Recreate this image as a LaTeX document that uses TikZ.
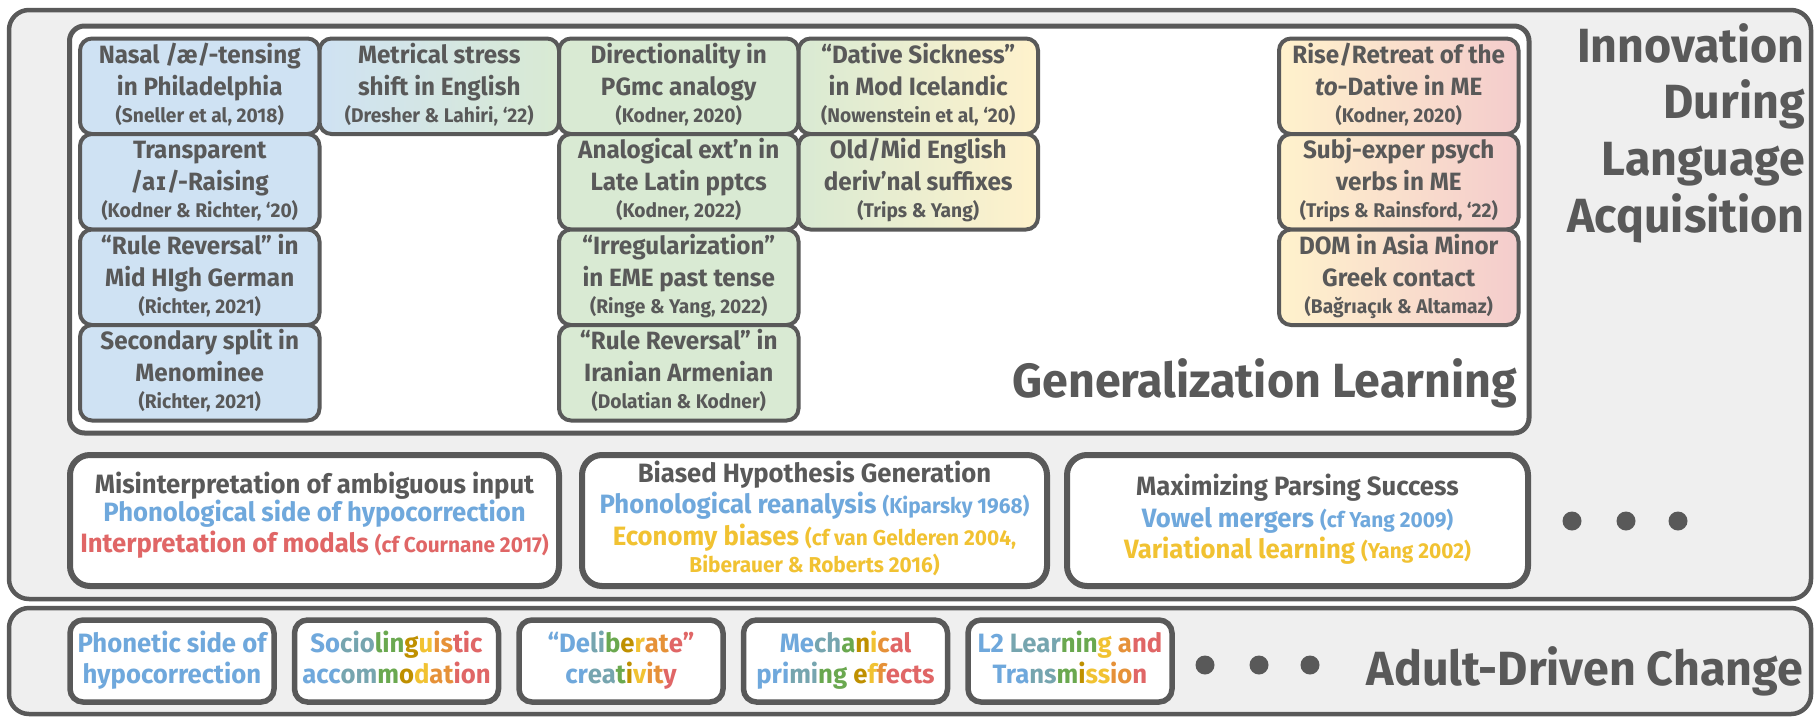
\documentclass[tikz,border=0pt]{standalone}
\usepackage{fontspec}
\setmainfont{Fira Sans}[FakeStretch=0.97]
\newfontfamily\ipafont{DejaVu Sans}[FakeStretch=0.85]
\usetikzlibrary{calc}
\definecolor{tgray}{HTML}{595959}
\definecolor{bgray}{HTML}{EFEFEF}
\definecolor{fblue}{HTML}{CFE2F3}
\definecolor{fgreen}{HTML}{D9EAD3}
\definecolor{fyellow}{HTML}{FFF2CC}
\definecolor{fred}{HTML}{F4CCCC}
\definecolor{cblue}{HTML}{6FA8DC}
\definecolor{cred}{HTML}{E06666}
\definecolor{cyellow}{HTML}{F1C232}
\definecolor{cgreen}{HTML}{6AA84F}
\definecolor{corange}{HTML}{E69138}
\definecolor{cgold}{HTML}{BF9000}
\definecolor{cteal}{HTML}{76A5AF}
\newcommand\fs[2]{\fontsize{#1}{#2}\selectfont\bfseries}
\newcommand\gbox[7]{%
  \node[smallbox,#4] (#1) at (#2,#3) {};
  \node[gt1] (#1a) at ($(#1.north)+(0,24.5)$) {#5};
  \node[gt1] (#1b) at ($(#1.north)+(0,56.5)$) {#6};
  \node[gt2] (#1c) at ($(#1.north)+(0,83.5)$) {#7};
}
\newcommand\ck[2]{\textcolor{#1}{#2}}
\tikzset{
  outerbox/.style={draw=tgray, fill=bgray, line width=4.5pt, rounded corners=20pt, inner sep=0pt, outer sep=0pt, anchor=north west},
  genbox/.style={draw=tgray, fill=white, line width=5pt, rounded corners=15pt, inner sep=0pt, outer sep=0pt, anchor=north west},
  smallbox/.style={draw=tgray, line width=4pt, rounded corners=12pt, inner sep=0pt, outer sep=0pt, minimum width=239.5pt, minimum height=95.5pt, anchor=north west},
  lowbox/.style={draw=tgray, fill=white, line width=6pt, rounded corners=20pt, inner sep=0pt, outer sep=0pt, minimum width=#1, minimum height=131pt, anchor=north west},
  botbox/.style={draw=tgray, fill=white, line width=5.5pt, rounded corners=13pt, inner sep=0pt, outer sep=0pt, minimum width=204pt, minimum height=82pt, anchor=north west},
  gt1/.style={font=\fs{25}{30}, text=tgray, inner sep=0pt, anchor=base},
  gt2/.style={font=\fs{19.8}{22}, text=tgray, inner sep=0pt, anchor=base},
  title/.style={font=\fs{48}{57}, text=tgray, inner sep=0pt, anchor=base east},
  lt/.style={font=\fs{26.5}{30}, text=tgray, inner sep=0pt, anchor=base},
  bt/.style={font=\fs{26.5}{30}, inner sep=0pt, anchor=base},
  dot/.style={circle, fill=tgray, inner sep=0pt, minimum size=19pt},
  fb/.style={fill=fblue},
  fg/.style={fill=fgreen},
  fbg/.style={left color=fblue, right color=fgreen},
  fgy/.style={left color=fgreen, right color=fyellow},
  fyr/.style={left color=fyellow, right color=fred},
}
\newcommand\sm{\fontsize{21.5}{24}\selectfont}
\begin{document}
\begin{tikzpicture}[x=1pt,y=-1pt]
\useasboundingbox (0,0) rectangle (1819,718);
% containers
\node[outerbox, minimum width=1802pt, minimum height=589pt] (top) at (9,10) {};
\node[outerbox, minimum width=1802pt, minimum height=106pt] (bottom) at (9,608) {};
\node[genbox, minimum width=1459.5pt, minimum height=407pt] (gen) at (69.5,26) {};
% generalization boxes
\gbox{b11}{80}{38.5}{fb}{Nasal /æ/-tensing}{in Philadelphia}{(Sneller et al, 2018)}
\gbox{b12}{80}{134}{fb}{Transparent}{/a{\ipafont ɪ}/-Raising}{(Kodner \& Richter, ‘20)}
\gbox{b13}{80}{229.5}{fb}{“Rule Reversal” in}{Mid HIgh German}{(Richter, 2021)}
\gbox{b14}{80}{325}{fb}{Secondary split in}{Menominee}{(Richter, 2021)}
\gbox{b21}{319.5}{38.5}{fbg}{Metrical stress}{shift in English}{(Dresher \& Lahiri, ‘22)}
\gbox{b31}{559}{38.5}{fg}{Directionality in}{PGmc analogy}{(Kodner, 2020)}
\gbox{b32}{559}{134}{fg}{Analogical ext’n in}{Late Latin pptcs}{(Kodner, 2022)}
\gbox{b33}{559}{229.5}{fg}{“Irregularization”}{in EME past tense}{(Ringe \& Yang, 2022)}
\gbox{b34}{559}{325}{fg}{“Rule Reversal” in}{Iranian Armenian}{(Dolatian \& Kodner)}
\gbox{b41}{798.5}{38.5}{fgy}{“Dative Sickness”}{in Mod Icelandic}{(Nowenstein et al, ‘20)}
\gbox{b42}{798.5}{134}{fgy}{Old/Mid English}{deriv’nal suffixes}{(Trips \& Yang)}
\gbox{b51}{1279}{38.5}{fyr}{Rise/Retreat of the}{\textit{to}-Dative in ME}{(Kodner, 2020)}
\gbox{b52}{1279}{134}{fyr}{Subj-exper psych}{verbs in ME}{(Trips \& Rainsford, ‘22)}
\gbox{b53}{1279}{229.5}{fyr}{DOM in Asia Minor}{Greek contact}{(Bağrıaçık \& Altamaz)}
% titles
\node[title] (ti1) at (1805,62) {Innovation};
\node[title] (ti2) at (1805,118) {During};
\node[title] (ti3) at (1805,175) {Language};
\node[title] (ti4) at (1805,232) {Acquisition};
\node[title] (tgen) at (1517,397) {Generalization Learning};
\node[title] (tadult) at (1803,685) {Adult-Driven Change};
% lower row
\node[lowbox=489pt] (m1) at (70,455) {};
\node[lowbox=465pt] (m2) at (582,455) {};
\node[lowbox=461pt] (m3) at (1067,455) {};
\node[lt] (m1a) at (314.5,493) {Misinterpretation of ambiguous input};
\node[lt, text=cblue] (m1b) at (314.5,521) {Phonological side of hypocorrection};
\node[lt, text=cred] (m1c) at (314.5,552) {Interpretation of modals \sm(cf Cournane 2017)};
\node[lt] (m2a) at (814.5,482) {Biased Hypothesis Generation};
\node[lt, text=cblue] (m2b) at (814.5,513) {Phonological reanalysis \sm(Kiparsky 1968)};
\node[lt, text=cyellow] (m2c) at (814.5,545) {Economy biases \sm(cf van Gelderen 2004,};
\node[lt, text=cyellow] (m2d) at (814.5,572) {\sm Biberauer \& Roberts 2016)};
\node[lt] (m3a) at (1297.5,495) {Maximizing Parsing Success};
\node[lt, text=cblue] (m3b) at (1297.5,527) {Vowel mergers \sm(cf Yang 2009)};
\node[lt, text=cyellow] (m3c) at (1297.5,558) {Variational learning \sm(Yang 2002)};
\node[dot] (md1) at (1572,521) {};
\node[dot] (md2) at (1626,521) {};
\node[dot] (md3) at (1678,521) {};
% bottom row
\node[botbox] (a1) at (70,620) {};
\node[botbox] (a2) at (294.5,620) {};
\node[botbox] (a3) at (519,620) {};
\node[botbox] (a4) at (743.5,620) {};
\node[botbox] (a5) at (968,620) {};
\node[bt, text=cblue] (a1a) at (172,652) {Phonetic side of};
\node[bt, text=cblue] (a1b) at (172,683) {hypocorrection};
\node[bt] (a2a) at (396.5,652) {\ck{cblue}{So}\ck{cteal}{cio}\ck{cgreen}{lin}\ck{cgold}{g}\ck{cyellow}{u}\ck{corange}{is}\ck{cred}{tic}};
\node[bt] (a2b) at (396.5,683) {\ck{cblue}{acc}\ck{cteal}{om}\ck{cgreen}{m}\ck{cgold}{o}\ck{cyellow}{d}\ck{corange}{at}\ck{cred}{ion}};
\node[bt] (a3a) at (621,652) {\ck{cblue}{“De}\ck{cteal}{li}\ck{cgreen}{b}\ck{cgold}{e}\ck{cyellow}{r}\ck{corange}{at}\ck{cred}{e”}};
\node[bt] (a3b) at (621,683) {\ck{cblue}{cr}\ck{cteal}{ea}\ck{cgreen}{t}\ck{cgold}{i}\ck{cyellow}{v}\ck{corange}{it}\ck{cred}{y}};
\node[bt] (a4a) at (845.5,652) {\ck{cblue}{Me}\ck{cteal}{ch}\ck{cgreen}{a}\ck{cgold}{n}\ck{cyellow}{i}\ck{corange}{c}\ck{cred}{al}};
\node[bt] (a4b) at (845.5,683) {\ck{cblue}{pri}\ck{cteal}{mi}\ck{cgreen}{ng }\ck{cgold}{e}\ck{cyellow}{f}\ck{corange}{f}\ck{cred}{ects}};
\node[bt] (a5a) at (1070,652) {\ck{cblue}{L2 }\ck{cteal}{Lear}\ck{cgreen}{nin}\ck{cyellow}{g }\ck{corange}{a}\ck{cred}{nd}};
\node[bt] (a5b) at (1070,683) {\ck{cblue}{Tra}\ck{cteal}{ns}\ck{cgreen}{m}\ck{cgold}{i}\ck{cyellow}{ss}\ck{corange}{io}\ck{cred}{n}};
\node[dot] (ad1) at (1205,665) {};
\node[dot] (ad2) at (1259,665) {};
\node[dot] (ad3) at (1310,665) {};
\end{tikzpicture}
\end{document}
